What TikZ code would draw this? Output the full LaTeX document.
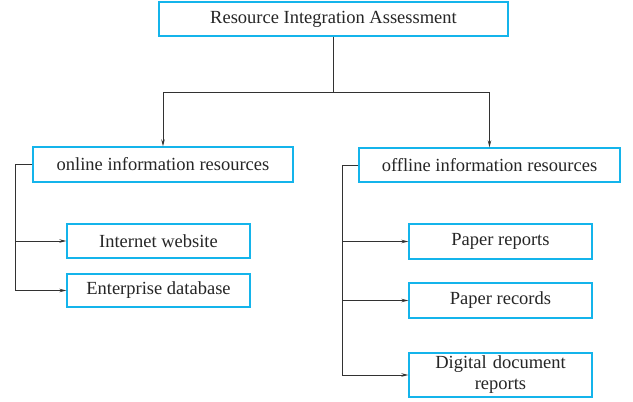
\documentclass[tikz,border=0pt]{standalone}
\usepackage{fontspec}
\setmainfont{Liberation Serif}
\usetikzlibrary{arrows.meta}
\definecolor{boxcyan}{RGB}{20,180,235}
\definecolor{linegray}{RGB}{50,50,50}
\begin{document}
\begin{tikzpicture}[x=1pt,y=-1pt,
  box/.style={draw=boxcyan,line width=1.3pt,fill=white,inner sep=0pt,align=center,
    font=\fontsize{18.5}{20}\selectfont,text=black!85},
  conn/.style={draw=linegray,line width=1pt,-{Stealth[length=7pt,width=3.5pt]}},
  plain/.style={draw=linegray,line width=1pt}]
\useasboundingbox (0,0) rectangle (633,402);
\node[box,minimum width=349pt,minimum height=34pt] (top) at (333.5,19) {Resource Integration Assessment};
\node[box,minimum width=260pt,minimum height=35pt] (on) at (163,164.5) {online information resources};
\node[box,minimum width=261pt,minimum height=34pt] (off) at (489.5,165) {offline information resources};
\node[box,minimum width=183pt,minimum height=34pt] (iw) at (158.5,241) {Internet website};
\node[box,minimum width=183pt,minimum height=33pt] (ed) at (158.5,290.5) {Enterprise database};
\node[box,minimum width=183pt,minimum height=35pt] (pr) at (500.5,241.5) {Paper reports};
\node[box,minimum width=183pt,minimum height=35pt] (prc) at (500.5,300.5) {Paper records};
\node[box,minimum width=183pt,minimum height=44pt,text width=170pt,font=\fontsize{18.5}{21}\selectfont] (dd) at (500.5,375) {Digital document\\reports};
\coordinate (j) at (333.5,92);
\draw[plain] (top.south) -- (j);
\draw[conn] (j) -| (on.north);
\draw[conn] (j) -| (off.north);
\coordinate (lo) at (15,164.5);
\draw[plain] (on.west) -- (lo);
\draw[conn] (lo) |- (iw.west);
\draw[conn] (lo) |- (ed.west);
\coordinate (lf) at (342,165);
\draw[plain] (off.west) -- (lf);
\draw[conn] (lf) |- (pr.west);
\draw[conn] (lf) |- (prc.west);
\draw[conn] (lf) |- (dd.west);
\end{tikzpicture}
\end{document}
